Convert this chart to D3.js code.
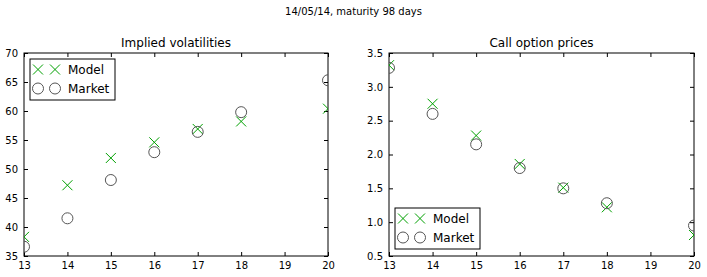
<!DOCTYPE html>
<html>
<head>
<meta charset="utf-8">
<script src="https://cdn.jsdelivr.net/npm/d3@7"></script>
<style>
  body { margin: 0; background: #fff; }
  text { font-family: "DejaVu Sans", sans-serif; }
</style>
</head>
<body>
<svg width="707" height="277"></svg>
<script>
var strikes = [13, 14, 15, 16, 17, 18, 20];
var volModel = [38.3, 47.2, 51.9, 54.6, 56.9, 58.2, 60.4];
var volMarket = [36.6, 41.5, 48.1, 52.9, 56.4, 59.8, 65.3];
var priceModel = [3.32, 2.75, 2.28, 1.86, 1.51, 1.22, 0.81];
var priceMarket = [3.28, 2.60, 2.15, 1.80, 1.50, 1.28, 0.95];
var xTicks = [13, 14, 15, 16, 17, 18, 19, 20];
var volTicks = [35, 40, 45, 50, 55, 60, 65, 70];
var priceTicks = [0.5, 1.0, 1.5, 2.0, 2.5, 3.0, 3.5];

var svg = d3.select("svg");

svg.append("text")
    .attr("x", 353.5).attr("y", 15)
    .attr("text-anchor", "middle")
    .style("font-size", "10px")
    .text("14/05/14, maturity 98 days");

function panel(left, right, title, yDomain, yTicks, fmt, model, market, legendPos) {
  var top = 53, bottom = 256;
  var g = svg.append("g");
  var x = d3.scaleLinear().domain([13, 20]).range([left, right]);
  var y = d3.scaleLinear().domain(yDomain).range([bottom, top]);

  // clip markers to axes
  var id = "clip" + left;
  svg.append("clipPath").attr("id", id)
    .append("rect").attr("x", left).attr("y", top)
    .attr("width", right - left).attr("height", bottom - top);

  g.append("text")
      .attr("x", (left + right) / 2).attr("y", top - 6)
      .attr("text-anchor", "middle")
      .style("font-size", "12px")
      .text(title);

  var xa = g.append("g").attr("transform", "translate(0," + bottom + ")")
      .call(d3.axisBottom(x).tickValues(xTicks).tickSize(-4).tickPadding(6).tickFormat(d3.format("d")));
  var xt = g.append("g").attr("transform", "translate(0," + top + ")")
      .call(d3.axisTop(x).tickValues(xTicks).tickSize(-4).tickFormat(""));
  var ya = g.append("g").attr("transform", "translate(" + left + ",0)")
      .call(d3.axisLeft(y).tickValues(yTicks).tickSize(-4).tickPadding(6).tickFormat(fmt));
  var yr = g.append("g").attr("transform", "translate(" + right + ",0)")
      .call(d3.axisRight(y).tickValues(yTicks).tickSize(-4).tickFormat(""));
  [xa, xt, ya, yr].forEach(function(a) {
    a.select(".domain").remove();
    a.selectAll("text").style("font-size", "10px").attr("fill", "#000")
      .style("font-family", "DejaVu Sans, sans-serif");
    a.selectAll("line").attr("stroke", "#000");
  });

  g.append("rect")
      .attr("x", left).attr("y", top)
      .attr("width", right - left).attr("height", bottom - top)
      .attr("fill", "none").attr("stroke", "#000").attr("stroke-width", 1);

  var m = g.append("g").attr("clip-path", "url(#" + id + ")");
  var s = 5;
  m.selectAll(".mk").data(strikes).enter().append("path")
      .attr("d", function(d, i) {
        var cx = x(d), cy = y(model[i]);
        return "M" + (cx - s) + "," + (cy - s) + "L" + (cx + s) + "," + (cy + s) +
               "M" + (cx - s) + "," + (cy + s) + "L" + (cx + s) + "," + (cy - s);
      })
      .attr("stroke", "#00a000").attr("stroke-width", 1).attr("fill", "none");
  m.selectAll(".mc").data(strikes).enter().append("circle")
      .attr("cx", function(d) { return x(d); })
      .attr("cy", function(d, i) { return y(market[i]); })
      .attr("r", 5.5)
      .attr("fill", "none").attr("stroke", "#555").attr("stroke-width", 1);

  // legend
  var lx = legendPos[0], ly = legendPos[1];
  var lg = g.append("g").attr("transform", "translate(" + lx + "," + ly + ")");
  lg.append("rect").attr("x", 0).attr("y", 0).attr("width", 85).attr("height", 41)
      .attr("fill", "#fff").attr("stroke", "#000").attr("stroke-width", 1);
  [["Model", "x"], ["Market", "o"]].forEach(function(it, k) {
    var cy = 10.5 + k * 19;
    [8, 25].forEach(function(cx) {
      if (it[1] == "x") {
        lg.append("path")
          .attr("d", "M" + (cx - s) + "," + (cy - s) + "L" + (cx + s) + "," + (cy + s) +
                     "M" + (cx - s) + "," + (cy + s) + "L" + (cx + s) + "," + (cy - s))
          .attr("stroke", "#00a000").attr("fill", "none");
      } else {
        lg.append("circle").attr("cx", cx).attr("cy", cy).attr("r", 5.5)
          .attr("fill", "none").attr("stroke", "#555");
      }
    });
    lg.append("text").attr("x", 38).attr("y", cy + 4.5)
      .style("font-size", "12px").text(it[0]);
  });
}

panel(24, 328, "Implied volatilities", [35, 70], volTicks, d3.format("d"),
      volModel, volMarket, [30, 59]);
panel(389, 694, "Call option prices", [0.5, 3.5], priceTicks, d3.format(".1f"),
      priceModel, priceMarket, [395, 208]);
</script>
</body>
</html>
